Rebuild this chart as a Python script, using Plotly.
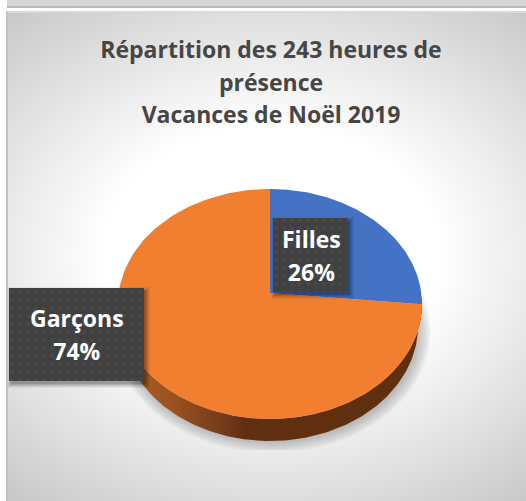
import numpy as np
import plotly.graph_objects as go

categories = ["Filles", "Garçons"]
shares = [26, 74]
colors = ["#4472c4", "#f27e30"]
title_lines = ["Répartition des 243 heures de", "présence", "Vacances de Noël 2019"]

W, H = 526, 501
CX, CY, RX, RY = 270, 304, 152, 115
APEX = (270, 293)
DEPTH = 22
FONT = "Open Sans"


def warp(theta):
    return theta - 0.0612 * np.sin(theta)


def rim(a, b, n=160, cx=CX, cy=CY, rx=RX, ry=RY):
    t = warp(np.linspace(a, b, n))
    return cx + rx * np.sin(t), cy - ry * np.cos(t)


fig = go.Figure()


def poly(x, y, **kw):
    fig.add_trace(go.Scatter(x=list(x), y=list(y), mode="lines", fill="toself",
                             line=dict(width=0), hoverinfo="skip", showlegend=False, **kw))


# panel background, radial gradient
bx0, bx1 = 271 - 440, 271 + 440
by0, by1 = 255 - 335, 255 + 335
poly([bx0, bx1, bx1, bx0, bx0], [by0, by0, by1, by1, by0],
     fillgradient=dict(type="radial",
                       colorscale=[[0, "#ffffff"], [0.38, "#ffffff"], [0.62, "#e8e8e8"], [1, "#c2c2c2"]]))

# soft shadow below the pie
for grow in range(0, 13):
    sx, sy = rim(0, 2 * np.pi, cx=272, cy=331, rx=147 + grow, ry=110 + grow)
    poly(sx, np.minimum(sy, 450), fillcolor="rgba(60,60,60,0.028)")

# side wall of the pie
ux, uy = rim(np.pi / 2, 3 * np.pi / 2)
lx, ly = rim(np.pi / 2, 3 * np.pi / 2, cy=CY + DEPTH, rx=RX - 4)
poly(np.r_[ux, lx[::-1], ux[0]], np.r_[uy, ly[::-1], uy[0]],
     fillgradient=dict(type="horizontal",
                       colorscale=[[0, "#b3601f"], [0.18, "#9a5220"], [0.36, "#70391a"], [0.42, "#5f2f10"], [1, "#5f2f10"]]))

# top face slices, clockwise from twelve o'clock
fractions = np.cumsum([0] + shares) / sum(shares)
for i, name in enumerate(categories):
    ax, ay = rim(2 * np.pi * fractions[i], 2 * np.pi * fractions[i + 1])
    poly(np.r_[APEX[0], ax, APEX[0]], np.r_[APEX[1], ay, APEX[1]], fillcolor=colors[i], name=name)

# data-label boxes
boxes = [(273, 218, 348, 292), (9, 288, 144, 381)]
for x0, y0, x1, y1 in boxes:
    for g, alpha in [(4, 0.05), (3, 0.06), (2, 0.08), (1, 0.1), (0, 0.12)]:
        poly([x0 + 2 - g, x1 + 2 + g, x1 + 2 + g, x0 + 2 - g, x0 + 2 - g],
             [y0 + 3 - g, y0 + 3 - g, y1 + 3 + g, y1 + 3 + g, y0 + 3 - g],
             fillcolor=f"rgba(0,0,0,{alpha})")
    poly([x0, x1, x1, x0, x0], [y0, y0, y1, y1, y0], fillcolor="#404040",
         fillpattern=dict(shape=".", bgcolor="#404040", fgcolor="#4e4e4e", size=8, solidity=0.25))

label_centers = [(311, 255), (77, 334)]
for name, share, (lx_, ly_) in zip(categories, shares, label_centers):
    fig.add_annotation(x=lx_, y=ly_, xref="x", yref="y", showarrow=False, align="center",
                       text=f'<b><span style="font-size:23px">{name}</span><br><span style="font-size:23px">{share}%</span></b>',
                       font=dict(family=FONT, size=25, color="#ffffff"))

# everything outside the panel
shapes = [
    dict(type="rect", x0=0, x1=W, y0=0, y1=12, fillcolor="#ffffff", line_width=0, layer="above"),
    dict(type="rect", x0=0, x1=7, y0=0, y1=H, fillcolor="#ffffff", line_width=0, layer="above"),
    dict(type="rect", x0=7, x1=W, y0=0, y1=6, fillcolor="#d6d6d6", line_width=0, layer="above"),
    dict(type="rect", x0=7, x1=W, y0=6, y1=8, fillcolor="#b8b8b8", line_width=0, layer="above"),
    dict(type="rect", x0=7, x1=W, y0=11, y1=13, fillcolor="#d9d9d9", line_width=0, layer="above"),
    dict(type="rect", x0=6, x1=8, y0=11, y1=H, fillcolor="#c4c4c4", line_width=0, layer="above"),
]

title_html = "<br>".join(f'<span style="font-size:23px">{t}</span>' for t in title_lines)
fig.update_layout(
    width=W, height=H, margin=dict(l=0, r=0, t=0, b=0),
    paper_bgcolor="#ffffff", plot_bgcolor="#ffffff", showlegend=False, shapes=shapes,
    title=dict(text=f"<b>{title_html}</b>", x=271 / W, xanchor="center", y=1 - 58 / H, yanchor="top",
               font=dict(family=FONT, size=25, color="#464646")),
    xaxis=dict(range=[0, W], visible=False, fixedrange=True),
    yaxis=dict(range=[H, 0], visible=False, fixedrange=True),
)
fig.write_html("out.html", config=dict(displayModeBar=False),
               post_script="document.body.style.margin='0';document.documentElement.style.overflow='hidden';")
